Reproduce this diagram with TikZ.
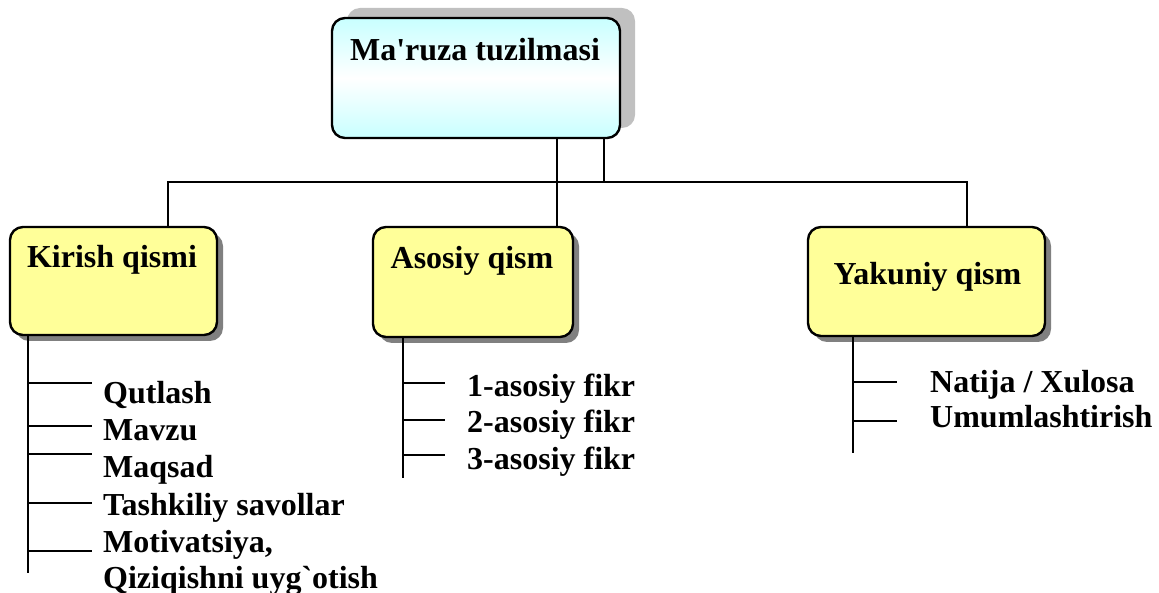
\documentclass[tikz,border=0pt]{standalone}
\usepackage{fontspec}
\setmainfont{Liberation Serif}[Ligatures=TeXOff]
\usetikzlibrary{shadows}
\definecolor{boxyellow}{HTML}{FFFF99}
\definecolor{lightcyan}{HTML}{C8FFFF}
\definecolor{shadowdark}{HTML}{808080}
\definecolor{shadowlight}{HTML}{C0C0C0}
\begin{document}
\begin{tikzpicture}[x=1pt,y=-1pt,
  box/.style={draw=black, line width=2.4pt, rounded corners=13pt, fill=boxyellow,
    inner sep=0pt,
    drop shadow={shadow xshift=6pt, shadow yshift=-6pt, fill=shadowdark, opacity=1}},
  topbox/.style={draw=black, line width=2.4pt, rounded corners=13pt, inner sep=0pt,
    top color=lightcyan, bottom color=lightcyan, middle color=white,
    drop shadow={shadow xshift=15pt, shadow yshift=10pt, fill=shadowlight, opacity=1}},
  title/.style={font=\fontsize{32}{38}\selectfont\bfseries, inner sep=0pt, anchor=base},
  item/.style={font=\fontsize{32}{38}\selectfont\bfseries, inner sep=0pt, anchor=base west},
  conn/.style={line width=2pt, black}]
\useasboundingbox (0,0) rectangle (1159,593);

% boxes
\node[topbox, minimum width=288pt, minimum height=120pt] (top) at (476,78) {};
\node[box, minimum width=207pt, minimum height=108pt] (kir) at (113.5,281) {};
\node[box, minimum width=200pt, minimum height=110pt] (aso) at (473,282) {};
\node[box, minimum width=237pt, minimum height=109pt] (yak) at (926.5,281.5) {};

% titles
\node[title] (ttop) at (475,61) {Ma'ruza tuzilmasi};
\node[title] (tkir) at (112,268) {Kirish qismi};
\node[title] (taso) at (472,269) {Asosiy qism};
\node[title] (tyak) at (927.5,285) {Yakuniy qism};

% junction coordinates
\coordinate (jA) at (557,182);
\coordinate (jB) at (604,182);
\coordinate (jL) at (168,182);
\coordinate (jR) at (967,182);

\draw[conn] (top.south -| jA) -- (aso.north -| jA);
\draw[conn] (top.south -| jB) -- (jB);
\draw[conn] (kir.north -| jL) -- (jL) -- (jR) -- (yak.north -| jR);

% Kirish items
\coordinate (kend) at (28,573);
\draw[conn] (kir.south -| kend) -- (kend);
\foreach \y [count=\i] in {383,426,454,503,551} {
  \draw[conn] (28,\y) coordinate (ks\i) -- (92,\y) coordinate (ke\i);
}
\node[item] (k1) at (103,403) {Qutlash};
\node[item] (k2) at (103,440) {Mavzu};
\node[item] (k3) at (103,477) {Maqsad};
\node[item] (k4) at (103,515) {Tashkiliy savollar};
\node[item] (k5) at (103,552) {Motivatsiya,};
\node[item] (k6) at (103,588) {Qiziqishni uyg`otish};

% Asosiy items
\coordinate (aend) at (403,478);
\draw[conn] (aso.south -| aend) -- (aend);
\foreach \y [count=\i] in {383,420,455} {
  \draw[conn] (403,\y) coordinate (as\i) -- (445,\y) coordinate (ae\i);
}
\node[item] (a1) at (467,396) {1-asosiy fikr};
\node[item] (a2) at (467,432) {2-asosiy fikr};
\node[item] (a3) at (467,469) {3-asosiy fikr};

% Yakuniy items
\coordinate (yend) at (853,453);
\draw[conn] (yak.south -| yend) -- (yend);
\foreach \y [count=\i] in {382,421} {
  \draw[conn] (853,\y) coordinate (ys\i) -- (897,\y) coordinate (ye\i);
}
\node[item] (y1) at (930,392) {Natija / Xulosa};
\node[item] (y2) at (930,428) {Umumlashtirish};
\end{tikzpicture}
\end{document}
